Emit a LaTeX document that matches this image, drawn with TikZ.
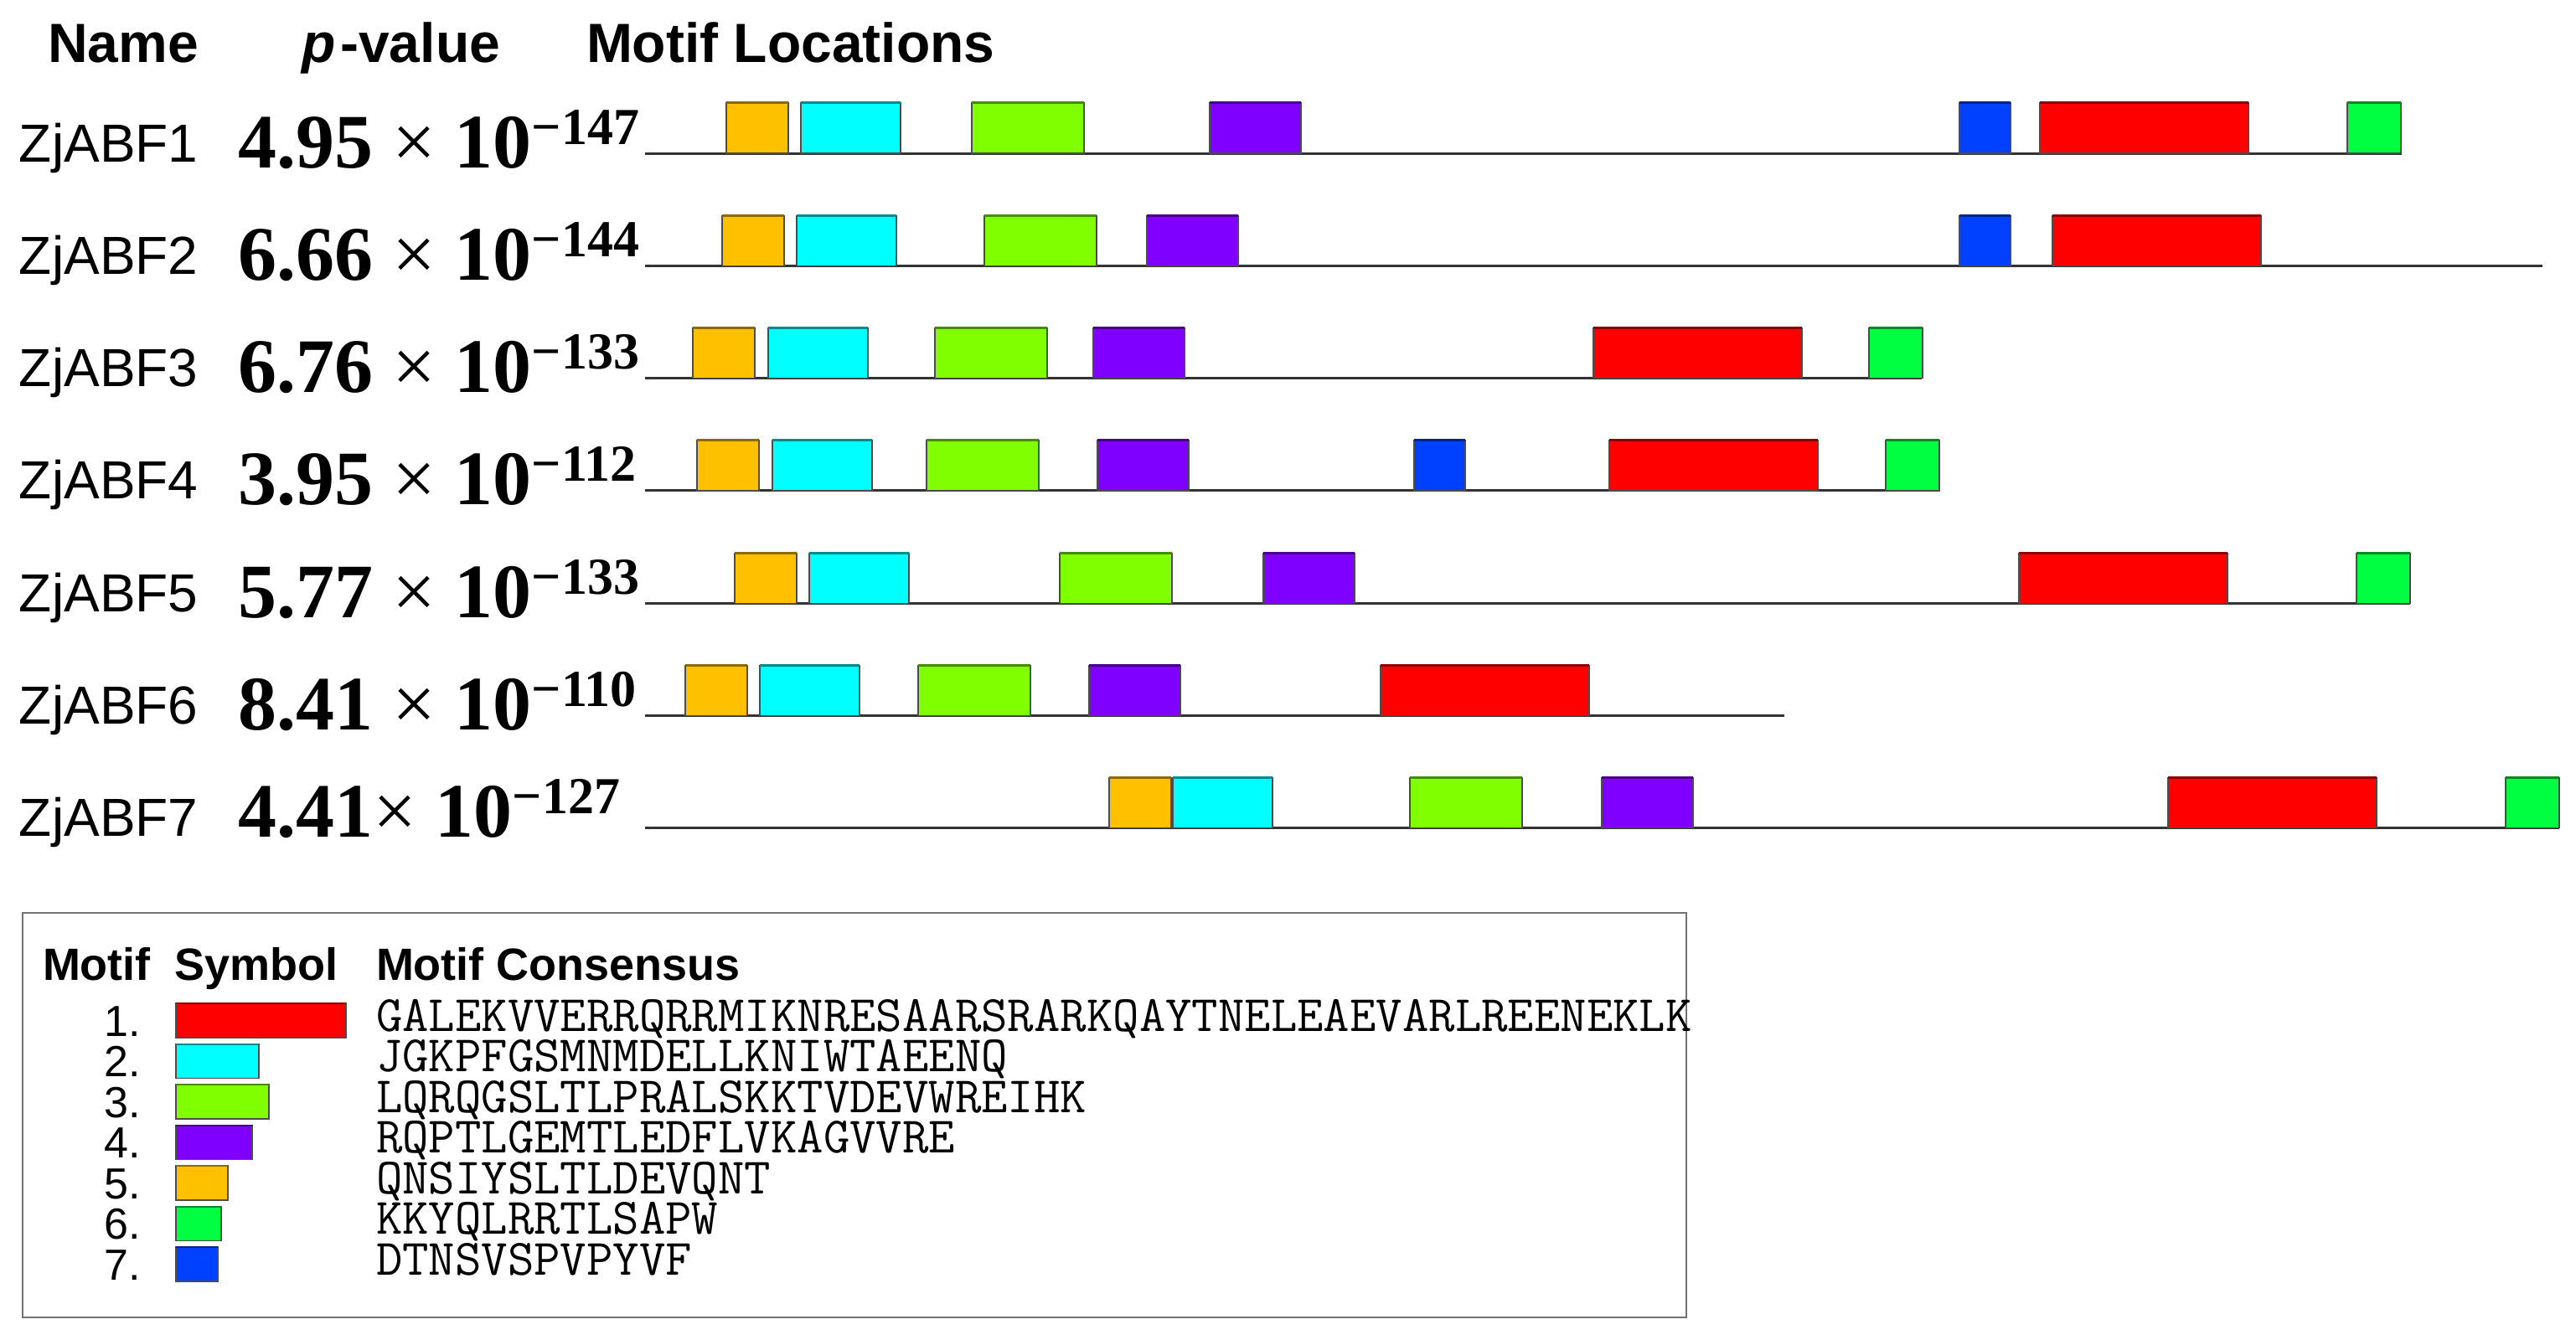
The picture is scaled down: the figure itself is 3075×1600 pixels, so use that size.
\documentclass[tikz,border=0pt]{standalone}
\usepackage{fontspec}
\setmainfont{Liberation Sans}
\newfontfamily\timesfam{Liberation Serif}

\definecolor{motif1}{HTML}{FF0000}
\definecolor{motif2}{HTML}{00FFFF}
\definecolor{motif3}{HTML}{80FF00}
\definecolor{motif4}{HTML}{8000FF}
\definecolor{motif5}{HTML}{FFC000}
\definecolor{motif6}{HTML}{00FF40}
\definecolor{motif7}{HTML}{0040FF}

\newcommand\headfont{\fontsize{66}{66}\selectfont\bfseries}
\newcommand\namefont{\fontsize{64}{64}\selectfont}
\newcommand\pvfont{\timesfam\fontsize{92}{92}\selectfont\bfseries}
\newcommand\expfont{\fontsize{62}{62}\selectfont}
\newcommand\legheadfont{\fontsize{54}{54}\selectfont\bfseries}
\newcommand\numfont{\fontsize{52}{52}\selectfont}
\newcommand\seqfont{\ttfamily\fontsize{61}{61}\selectfont}

\begin{document}
\begin{tikzpicture}
  [x=1pt,y=-1pt,every node/.style={inner sep=0pt,outer sep=0pt},
   headlab/.style={anchor=base west,font=\headfont},
   namelab/.style={anchor=base west,font=\namefont},
   pvlab/.style={anchor=base west,font=\pvfont},
   seqline/.style={line width=3pt,black!80},
   motifbox/.style={draw=black!70,line width=1.2pt,minimum height=60pt,anchor=south west},
   topedge/.style={line width=3pt},
   numlab/.style={anchor=base east,font=\numfont},
   seqlab/.style={anchor=base west,font=\seqfont}]
  \useasboundingbox (0,0) rectangle (3075,1600);

  % column titles
  \node[headlab] (hname) at (57,75)  {Name};
  \node[headlab] (hpval) at (360,75) {\textit{p}\kern6pt-value};
  \node[headlab] (hloc)  at (700,75) {Motif Locations};

  % names, p-values and sequence lines
  \foreach \r/\mant/\sep/\ex/\len/\dy in {1/4.95/{\ }/−147/2867/17,2/6.66/{\ }/−144/3035/17,
      3/6.76/{\ }/−133/2294/17,4/3.95/{\ }/−112/2314/17,5/5.77/{\ }/−133/2877/17,
      6/8.41/{\ }/−110/2130/17,7/4.41/{}/−127/3055/11}{
    \pgfmathsetmacro\ly{183+134.3*(\r-1)}
    \node[namelab] (name\r) at (23,\ly+10) {ZjABF\r};
    \node[pvlab] (pv\r) at (284,\ly+\dy) {\mant\sep{\mdseries×}\ 10\raisebox{28pt}{\expfont\ex}};
    \coordinate (s\r) at (770,\ly);
    \coordinate (e\r) at (\len,\ly);
    \draw[seqline] (s\r) -- (e\r);
  }

  % motif boxes: row/left/motif
  \foreach \r/\x/\m in {1/867/5,1/956/2,1/1160/3,1/1444/4,1/2339/7,1/2435/1,1/2802/6,
      2/862/5,2/951/2,2/1175/3,2/1369/4,2/2339/7,2/2450/1,
      3/827/5,3/917/2,3/1116/3,3/1305/4,3/1902/1,3/2231/6,
      4/832/5,4/922/2,4/1106/3,4/1310/4,4/1688/7,4/1921/1,4/2251/6,
      5/877/5,5/966/2,5/1265/3,5/1508/4,5/2410/1,5/2813/6,
      6/818/5,6/907/2,6/1096/3,6/1300/4,6/1648/1,
      7/1324/5,7/1400/2,7/1683/3,7/1912/4,7/2588/1,7/2991/6}{
    \pgfmathsetmacro\ly{183+134.3*(\r-1)}
    \pgfmathsetmacro\w{{249,119,134,109,74,64,61}[\m-1]}
    \node[motifbox,fill=motif\m,minimum width=\w] (b\r-\x) at (\x,\ly) {};
    \draw[topedge,motif\m!55!black] (b\r-\x.north west) -- (b\r-\x.north east);
  }

  % legend
  \draw[line width=2pt,black!55] (27,1090) rectangle (2013,1573);
  \node[anchor=base west,font=\legheadfont] (lmotif) at (51,1170)  {Motif};
  \node[anchor=base west,font=\legheadfont] (lsym)   at (208,1170) {Symbol};
  \node[anchor=base west,font=\legheadfont] (lcons)  at (449,1170) {Motif Consensus};
  \foreach \m/\w/\seq in {1/203/GALEKVVERRQRRMIKNRESAARSRARKQAYTNELEAEVARLREENEKLK,
      2/99/JGKPFGSMNMDELLKNIWTAEENQ,3/111/LQRQGSLTLPRALSKKTVDEVWREIHK,
      4/91/RQPTLGEMTLEDFLVKAGVVRE,5/62/QNSIYSLTLDEVQNT,6/54/KKYQLRRTLSAPW,
      7/50/DTNSVSPVPYVF}{
    \pgfmathsetmacro\ty{1239+48.5*(\m-1)}
    \node[numlab] (n\m) at (168,\ty-2) {\m.};
    \node[motifbox,fill=motif\m,minimum width=\w,minimum height=41pt] (k\m) at (210,\ty) {};
    \draw[topedge,line width=2pt,motif\m!55!black] (k\m.north west) -- (k\m.north east);
    \node[seqlab] (q\m) at (449,\ty-8) {\seq};
  }

\end{tikzpicture}
\end{document}
